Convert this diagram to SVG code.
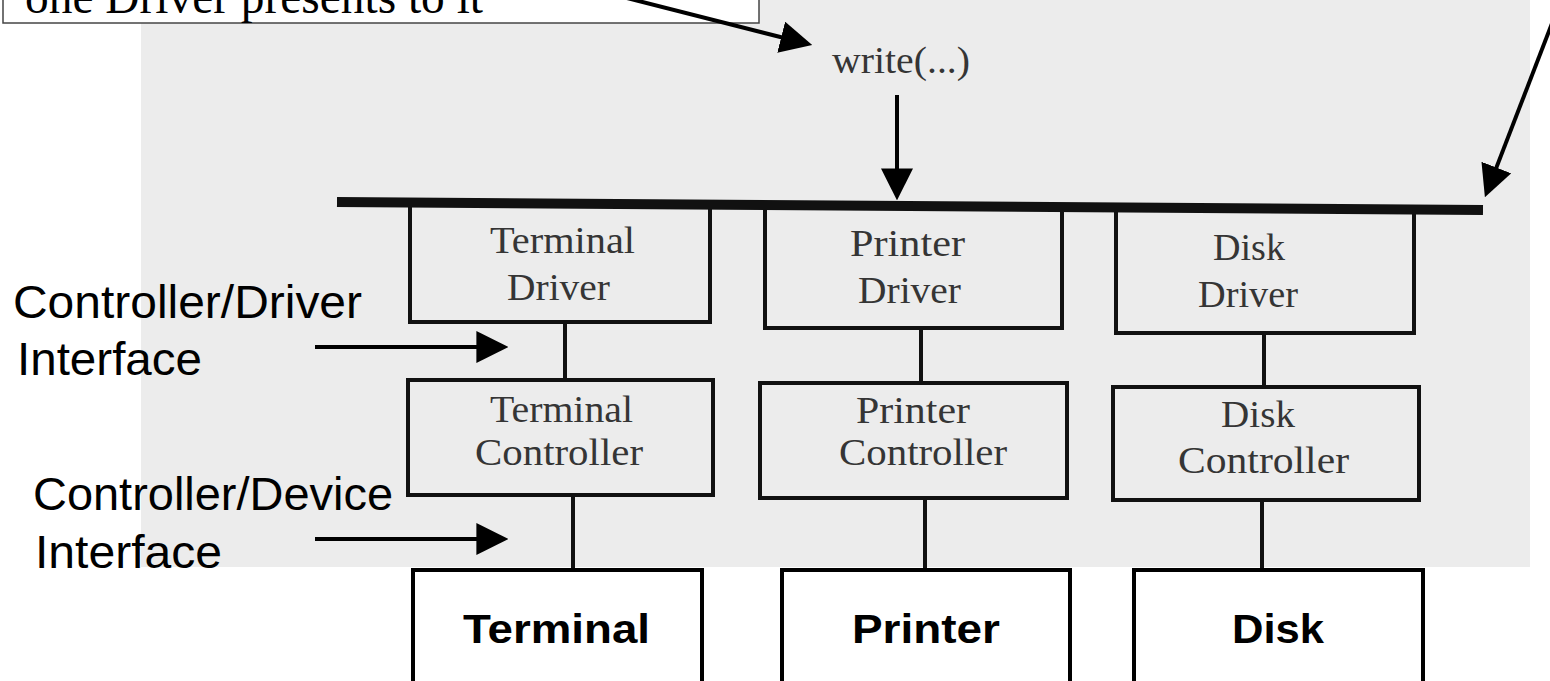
<svg xmlns="http://www.w3.org/2000/svg" width="1550" height="681" viewBox="0 0 1550 681">
  <style>
    .box { fill: none; stroke: #111; stroke-width: 4; }
    .dev { fill: #fff; stroke: #000; stroke-width: 4; }
    .ln { stroke: #111; stroke-width: 4; fill: none; }
    .arr { stroke: #000; stroke-width: 4; fill: none; marker-end: url(#ah); }
    .lbl { font-family: "Liberation Serif", serif; font-size: 38px; fill: #353535; }
    .devt { font-family: "Liberation Sans", Arial, sans-serif; font-weight: bold; font-size: 40px; fill: #000; }
    .side { font-family: "Liberation Sans", Arial, sans-serif; font-size: 46px; fill: #000; }
    .note { font-family: "Liberation Serif", serif; font-size: 48px; fill: #000; }
  </style>
  <defs>
    <marker id="ah" markerUnits="userSpaceOnUse" markerWidth="32" markerHeight="32" viewBox="0 0 30 30" refX="24" refY="15" orient="auto">
      <path d="M0,0 L30,15 L0,30 z" fill="#000"/>
    </marker>
  </defs>

  <rect id="page" x="141" y="0" width="1389" height="567" fill="#ececec"/>

  <g id="note">
    <rect x="3" y="-10" width="756" height="33" fill="#fff" stroke="#444" stroke-width="1.5"/>
    <text class="note" x="25" y="13" textLength="458" lengthAdjust="spacingAndGlyphs">one Driver presents to it</text>
  </g>

  <g id="connectors">
    <line class="arr" x1="615" y1="-5" x2="806" y2="43.5"/>
    <line x1="337" y1="202" x2="1483" y2="210" stroke="#111" stroke-width="10"/>
    <line class="arr" x1="897" y1="95" x2="897" y2="194"/>
    <line class="arr" x1="1561" y1="0" x2="1487.2" y2="191.4"/>
    <line class="arr" x1="315" y1="347" x2="502" y2="347"/>
    <line class="arr" x1="315" y1="539" x2="502" y2="539"/>
    <line class="ln" x1="565" y1="322" x2="565" y2="380"/>
    <line class="ln" x1="573" y1="495" x2="573" y2="570"/>
    <line class="ln" x1="921" y1="328" x2="921" y2="383"/>
    <line class="ln" x1="925" y1="498" x2="925" y2="570"/>
    <line class="ln" x1="1264" y1="333" x2="1264" y2="387"/>
    <line class="ln" x1="1262" y1="500" x2="1262" y2="570"/>
  </g>

  <g id="write-label">
    <text class="lbl" x="832" y="73" textLength="138" lengthAdjust="spacingAndGlyphs">write(...)</text>
  </g>

  <g id="terminal-driver">
    <rect class="box" x="410" y="204" width="300" height="118"/>
    <text class="lbl" x="490" y="253" textLength="145" lengthAdjust="spacingAndGlyphs">Terminal</text>
    <text class="lbl" x="507" y="300" textLength="103" lengthAdjust="spacingAndGlyphs">Driver</text>
  </g>
  <g id="printer-driver">
    <rect class="box" x="765" y="206" width="297" height="122"/>
    <text class="lbl" x="850" y="256" textLength="115" lengthAdjust="spacingAndGlyphs">Printer</text>
    <text class="lbl" x="858" y="303" textLength="103" lengthAdjust="spacingAndGlyphs">Driver</text>
  </g>
  <g id="disk-driver">
    <rect class="box" x="1116" y="209" width="298" height="124"/>
    <text class="lbl" x="1213" y="260" textLength="72" lengthAdjust="spacingAndGlyphs">Disk</text>
    <text class="lbl" x="1198" y="307" textLength="100" lengthAdjust="spacingAndGlyphs">Driver</text>
  </g>

  <g id="terminal-controller">
    <rect class="box" x="408" y="380" width="305" height="115"/>
    <text class="lbl" x="490" y="422" textLength="143" lengthAdjust="spacingAndGlyphs">Terminal</text>
    <text class="lbl" x="475" y="465" textLength="168" lengthAdjust="spacingAndGlyphs">Controller</text>
  </g>
  <g id="printer-controller">
    <rect class="box" x="760" y="383" width="307" height="115"/>
    <text class="lbl" x="856" y="423" textLength="114" lengthAdjust="spacingAndGlyphs">Printer</text>
    <text class="lbl" x="839" y="465" textLength="168" lengthAdjust="spacingAndGlyphs">Controller</text>
  </g>
  <g id="disk-controller">
    <rect class="box" x="1113" y="387" width="306" height="113"/>
    <text class="lbl" x="1221" y="427" textLength="74" lengthAdjust="spacingAndGlyphs">Disk</text>
    <text class="lbl" x="1178" y="473" textLength="171" lengthAdjust="spacingAndGlyphs">Controller</text>
  </g>

  <g id="terminal">
    <rect class="dev" x="413" y="570" width="289" height="130"/>
    <text class="devt" x="463" y="643" textLength="187" lengthAdjust="spacingAndGlyphs">Terminal</text>
  </g>
  <g id="printer">
    <rect class="dev" x="782" y="570" width="288" height="130"/>
    <text class="devt" x="852" y="643" textLength="148" lengthAdjust="spacingAndGlyphs">Printer</text>
  </g>
  <g id="disk">
    <rect class="dev" x="1134" y="570" width="289" height="130"/>
    <text class="devt" x="1232" y="643" textLength="92" lengthAdjust="spacingAndGlyphs">Disk</text>
  </g>

  <g id="side-labels">
    <text class="side" x="13" y="318" textLength="349" lengthAdjust="spacingAndGlyphs">Controller/Driver</text>
    <text class="side" x="17" y="375" textLength="185" lengthAdjust="spacingAndGlyphs">Interface</text>
    <text class="side" x="33" y="510" textLength="360" lengthAdjust="spacingAndGlyphs">Controller/Device</text>
    <text class="side" x="35" y="568" textLength="187" lengthAdjust="spacingAndGlyphs">Interface</text>
  </g>
</svg>
